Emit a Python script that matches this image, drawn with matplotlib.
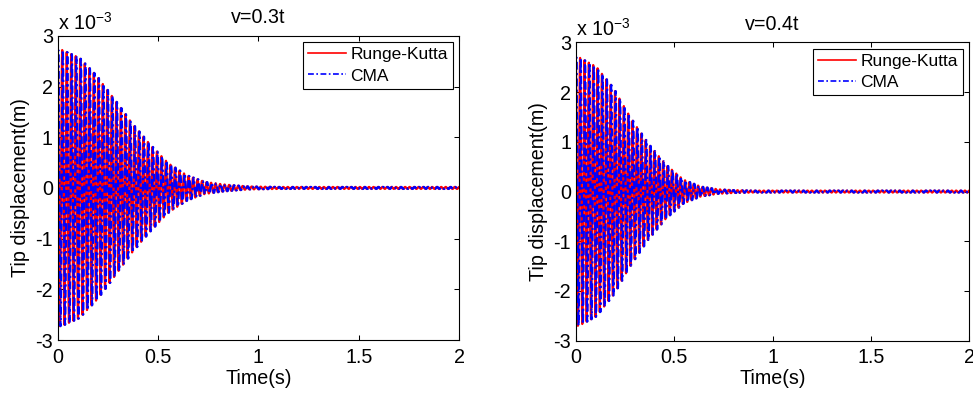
import numpy as np
import matplotlib
matplotlib.use("Agg")
import matplotlib.pyplot as plt

plt.rcParams['font.family'] = ['Liberation Sans', 'DejaVu Sans']
plt.rcParams['mathtext.fontset'] = 'custom'
plt.rcParams['mathtext.rm'] = 'Liberation Sans'
plt.rcParams['mathtext.it'] = 'Liberation Sans:italic'

# ---- data (displacement in units of 1e-3 m) ----
titles = ["v=0.3t", "v=0.4t"]
series_names = ["Runge-Kutta", "CMA"]

# envelope (peak amplitude) of the oscillation, read at the visible peaks
env_t_03 = [0.0, 0.017, 0.107, 0.194, 0.286, 0.373, 0.464, 0.553, 0.643, 0.732, 0.824, 0.9, 0.95, 1.1, 2.0]
env_a_03 = [2.72, 2.73, 2.57, 2.21, 1.73, 1.26, 0.84, 0.48, 0.25, 0.12, 0.07, 0.045, 0.03, 0.02, 0.02]
env_t_04 = [0.0, 0.017, 0.105, 0.193, 0.281, 0.369, 0.459, 0.547, 0.635, 0.725, 0.8, 0.9, 2.0]
env_a_04 = [2.70, 2.70, 2.51, 2.07, 1.47, 0.96, 0.54, 0.24, 0.10, 0.045, 0.03, 0.02, 0.02]
# oscillation frequency from the spacing of visible peaks (Hz)
freq_03 = 44.5
freq_04 = 45.0
cma_lag = 0.003  # s, small shift of the CMA curve

xticks = [0, 0.5, 1, 1.5, 2]
xticklabels = ["0", "0.5", "1", "1.5", "2"]
yticks = [-3, -2, -1, 0, 1, 2, 3]
yticklabels = ["-3", "-2", "-1", "0", "1", "2", "3"]

FS = 14.2
LFS = 12.5
fig = plt.figure(figsize=(9.73, 3.94), dpi=100)
ax1 = fig.add_axes([0.0593, 0.137, 0.4127, 0.772])
ax2 = fig.add_axes([0.5917, 0.1353, 0.4045, 0.757])

t = np.linspace(0, 2, 40001)
cases = [(ax1, titles[0], env_t_03, env_a_03, freq_03),
         (ax2, titles[1], env_t_04, env_a_04, freq_04)]

for ax, title, et, ea, f in cases:
    env = np.interp(t, et, ea)
    rk = env * np.cos(2 * np.pi * f * t)
    cma = np.interp(t - cma_lag, t, env) * np.cos(2 * np.pi * f * (t - cma_lag))
    ax.plot(t, rk, color='#ff0000', lw=1.6, ls='-', label=series_names[0])
    ax.plot(t, cma, color='#0000ff', lw=1.6, ls=(0, (3.5, 1.5, 1, 1.5)),
            label=series_names[1])
    ax.set_xlim(0, 2)
    ax.set_ylim(-3, 3)
    ax.set_xticks(xticks)
    ax.set_xticklabels(xticklabels)
    ax.set_yticks(yticks)
    ax.set_yticklabels(yticklabels)
    ax.tick_params(axis='both', direction='in', length=3.5, width=0.75,
                   top=True, right=True, labelsize=FS)
    ax.tick_params(axis='x', pad=5.5)
    ax.tick_params(axis='y', pad=3.4)
    for s in ax.spines.values():
        s.set_linewidth(0.8)
    ax.set_title(title, fontsize=FS, pad=9)
    ax.set_xlabel("Time(s)", fontsize=FS, labelpad=1.5)
    ax.set_ylabel("Tip displacement(m)", fontsize=FS, labelpad=4)
    ax.annotate(r"x 10$^{-3}$", xy=(0, 1), xycoords='axes fraction',
                xytext=(0, 4.5), textcoords='offset points',
                ha='left', va='baseline', fontsize=FS)
    leg = ax.legend(loc='upper right', fontsize=LFS, handlelength=2.2,
                    handletextpad=0.25, borderpad=0.3, labelspacing=0.35,
                    borderaxespad=0.35, fancybox=False, framealpha=1,
                    edgecolor='black')
    leg.get_frame().set_linewidth(0.8)
    for line in leg.get_lines():
        line.set_linewidth(1.2)

fig.savefig("out.png", dpi=100)
